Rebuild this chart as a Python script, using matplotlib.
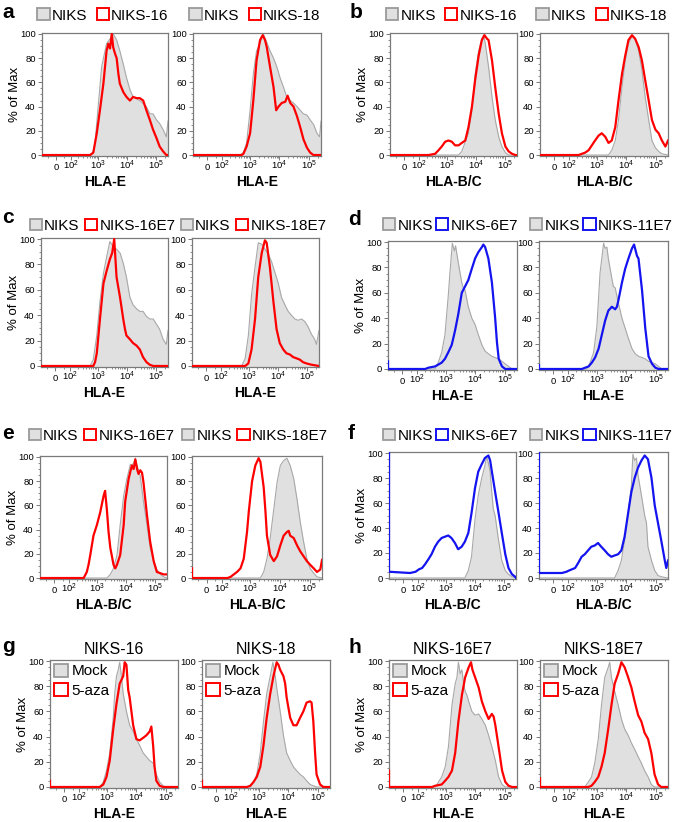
import numpy as np
import matplotlib
matplotlib.use("Agg")
import matplotlib.pyplot as plt
from matplotlib.patches import Patch
from matplotlib.ticker import FixedLocator, AutoMinorLocator, NullFormatter

plt.rcParams['font.family'] = ['Liberation Sans', 'DejaVu Sans']
plt.rcParams['mathtext.fontset'] = 'custom'
plt.rcParams['mathtext.rm'] = 'Liberation Sans'
plt.rcParams['mathtext.it'] = 'Liberation Sans:italic'
plt.rcParams['mathtext.bf'] = 'Liberation Sans:bold'

# ---------------- data (x in log10 fluorescence, y in % of max) ----------------
# Panel a
A1_NIKS_X = [2.70, 2.81, 2.89, 3.01, 3.12, 3.29, 3.41, 3.52, 3.64, 3.75, 3.87, 3.98, 4.10, 4.21, 4.44, 4.67, 4.79, 4.90, 5.02, 5.13, 5.25, 5.36, 5.42]
A1_NIKS_Y = [0, 2, 10, 43, 73, 92, 96, 100, 95, 86, 75, 64, 54, 48, 45, 40, 34, 34, 29, 26, 21, 15, 28]
A1_16_X = [2.72, 2.83, 2.95, 3.06, 3.18, 3.29, 3.35, 3.41, 3.47, 3.52, 3.58, 3.64, 3.70, 3.75, 3.87, 3.98, 4.10, 4.21, 4.33, 4.44, 4.56, 4.67, 4.79, 4.90, 5.02, 5.13, 5.25, 5.36, 5.42]
A1_16_Y = [0, 2, 18, 37, 59, 86, 92, 88, 100, 89, 84, 80, 67, 59, 52, 48, 45, 48, 47, 47, 45, 37, 29, 21, 14, 7, 3, 0, 0]
A2_NIKS_X = [2.65, 2.77, 2.88, 3.00, 3.11, 3.22, 3.34, 3.45, 3.57, 3.68, 3.80, 3.91, 4.02, 4.14, 4.25, 4.37, 4.48, 4.60, 4.71, 4.82, 4.94, 5.05, 5.17, 5.28, 5.37, 5.42]
A2_NIKS_Y = [0, 2, 10, 37, 67, 86, 92, 100, 93, 86, 80, 73, 64, 56, 48, 45, 43, 40, 37, 34, 33, 29, 25, 18, 15, 28]
A2_18_X = [2.71, 2.77, 2.88, 3.00, 3.11, 3.22, 3.34, 3.43, 3.51, 3.57, 3.68, 3.80, 3.89, 3.97, 4.08, 4.20, 4.28, 4.37, 4.48, 4.60, 4.71, 4.82, 4.94, 5.05, 5.16, 5.42]
A2_18_Y = [0, 1, 7, 18, 45, 78, 95, 99, 95, 89, 73, 56, 37, 40, 43, 44, 49, 43, 40, 32, 23, 13, 6, 2, 0, 0]

# Panel b
B1_NIKS_X = [3.41, 3.52, 3.75, 3.87, 3.98, 4.10, 4.21, 4.27, 4.33, 4.44, 4.56, 4.67, 4.79, 4.90, 5.02, 5.13, 5.42]
B1_NIKS_Y = [0, 3, 18, 37, 67, 86, 96, 99, 92, 73, 48, 29, 15, 7, 2, 0, 0]
B1_16_X = [2.37, 2.60, 2.72, 2.83, 2.95, 3.06, 3.18, 3.29, 3.41, 3.52, 3.64, 3.75, 3.87, 3.98, 4.10, 4.21, 4.30, 4.39, 4.44, 4.56, 4.67, 4.79, 4.90, 5.02, 5.13, 5.25, 5.36, 5.42]
B1_16_Y = [0, 1, 4, 7, 11, 12, 11, 8, 8, 10, 12, 23, 40, 62, 82, 95, 99, 96, 95, 78, 56, 34, 18, 7, 3, 1, 0, 0]
B2_NIKS_X = [3.39, 3.50, 3.62, 3.73, 3.85, 3.96, 4.07, 4.19, 4.30, 4.42, 4.53, 4.64, 4.76, 4.87, 4.99, 5.10, 5.21, 5.42]
B2_NIKS_Y = [0, 4, 12, 29, 56, 78, 92, 98, 96, 86, 70, 48, 29, 12, 6, 3, 1, 0]
B2_18_X = [2.36, 2.59, 2.71, 2.82, 2.93, 3.05, 3.16, 3.28, 3.39, 3.50, 3.62, 3.73, 3.85, 3.96, 4.07, 4.19, 4.30, 4.42, 4.53, 4.64, 4.76, 4.87, 4.99, 5.10, 5.21, 5.33, 5.42]
B2_18_Y = [0, 2, 4, 8, 12, 16, 18, 15, 10, 12, 23, 45, 67, 82, 95, 99, 96, 89, 78, 62, 45, 29, 21, 18, 12, 7, 12]

# Panel c
C1_NIKS_X = [2.74, 2.85, 2.97, 3.08, 3.20, 3.31, 3.42, 3.54, 3.65, 3.77, 3.88, 3.99, 4.11, 4.22, 4.34, 4.45, 4.56, 4.68, 4.79, 4.91, 5.02, 5.13, 5.25, 5.36, 5.42]
C1_NIKS_Y = [0, 5, 24, 51, 73, 86, 98, 94, 92, 89, 81, 70, 54, 48, 45, 43, 43, 39, 37, 37, 33, 29, 21, 17, 28]
C1_16E7_X = [2.85, 2.91, 2.97, 3.08, 3.20, 3.31, 3.42, 3.50, 3.57, 3.65, 3.77, 3.88, 3.94, 3.99, 4.11, 4.22, 4.34, 4.45, 4.56, 4.68, 4.79, 4.91, 5.42]
C1_16E7_Y = [0, 3, 10, 37, 65, 75, 84, 89, 100, 70, 54, 37, 29, 24, 21, 18, 16, 13, 7, 3, 1, 0, 0]
C2_NIKS_X = [2.76, 2.88, 2.99, 3.10, 3.22, 3.33, 3.45, 3.56, 3.68, 3.79, 3.90, 4.02, 4.13, 4.25, 4.36, 4.47, 4.59, 4.70, 4.82, 4.93, 5.04, 5.16, 5.27, 5.33, 5.42]
C2_NIKS_Y = [0, 6, 24, 56, 78, 97, 96, 92, 88, 82, 74, 65, 54, 48, 43, 40, 37, 36, 37, 35, 31, 25, 21, 17, 28]
C2_18E7_X = [2.88, 2.99, 3.10, 3.22, 3.33, 3.45, 3.56, 3.62, 3.73, 3.85, 3.96, 4.07, 4.19, 4.30, 4.42, 4.53, 4.65, 4.76, 4.87, 4.99, 5.16, 5.42]
C2_18E7_Y = [0, 2, 13, 37, 70, 89, 99, 97, 78, 51, 29, 18, 13, 10, 9, 7, 6, 5, 3, 2, 1, 0]

# Panel d
D1_NIKS_X = [2.64, 2.75, 2.87, 2.98, 3.09, 3.15, 3.23, 3.30, 3.34, 3.43, 3.55, 3.60, 3.66, 3.72, 3.77, 3.89, 4.00, 4.11, 4.23, 4.34, 4.45, 4.57, 4.68, 4.80, 4.91, 5.02, 5.14, 5.25, 5.42]
D1_NIKS_Y = [0, 5, 13, 27, 57, 76, 99, 93, 97, 84, 68, 64, 62, 55, 49, 40, 35, 27, 19, 14, 12, 10, 9, 8, 6, 4, 2, 0, 0]
D1_6E7_X = [2.30, 2.41, 2.64, 2.87, 2.98, 3.09, 3.21, 3.32, 3.43, 3.55, 3.66, 3.77, 3.89, 4.00, 4.11, 4.23, 4.28, 4.34, 4.45, 4.57, 4.68, 4.74, 4.80, 4.91, 5.02, 5.42]
D1_6E7_Y = [0, 1, 2, 5, 8, 13, 19, 30, 43, 60, 65, 70, 79, 87, 92, 96, 98, 96, 87, 68, 40, 21, 8, 2, 0, 0]
D2_NIKS_X = [2.67, 2.78, 2.90, 3.01, 3.12, 3.24, 3.29, 3.35, 3.40, 3.52, 3.57, 3.63, 3.74, 3.86, 3.97, 4.08, 4.20, 4.31, 4.42, 4.54, 4.65, 4.76, 4.88, 4.99, 5.10, 5.21, 5.42]
D2_NIKS_Y = [0, 5, 13, 33, 76, 99, 95, 96, 87, 71, 65, 64, 52, 40, 32, 24, 16, 12, 10, 9, 8, 6, 5, 4, 2, 0, 0]
D2_11E7_X = [2.50, 2.61, 2.73, 2.84, 2.95, 3.07, 3.18, 3.29, 3.40, 3.52, 3.63, 3.69, 3.74, 3.86, 3.97, 4.08, 4.20, 4.27, 4.37, 4.42, 4.54, 4.65, 4.76, 4.88, 4.99, 5.10, 5.42]
D2_11E7_Y = [0, 1, 2, 5, 9, 16, 27, 38, 46, 49, 47, 49, 54, 68, 79, 87, 95, 98, 89, 87, 62, 32, 10, 4, 1, 0, 0]

# Panel e
E1_NIKS_X = [3.35, 3.47, 3.58, 3.70, 3.81, 3.93, 4.04, 4.16, 4.21, 4.27, 4.33, 4.39, 4.50, 4.61, 4.73, 4.84, 4.96, 5.07, 5.19, 5.30, 5.42]
E1_NIKS_Y = [0, 3, 8, 19, 44, 68, 82, 94, 93, 95, 99, 93, 84, 63, 44, 25, 14, 7, 3, 1, 0]
E1_16E7_X = [2.55, 2.66, 2.72, 2.78, 2.89, 3.01, 3.12, 3.24, 3.29, 3.35, 3.41, 3.47, 3.58, 3.64, 3.70, 3.81, 3.93, 3.98, 4.10, 4.21, 4.27, 4.33, 4.39, 4.44, 4.50, 4.56, 4.61, 4.73, 4.84, 4.96, 5.07, 5.19, 5.30, 5.42]
E1_16E7_Y = [0, 5, 11, 19, 35, 44, 54, 68, 72, 57, 38, 25, 11, 8, 11, 19, 44, 63, 82, 93, 90, 98, 90, 86, 89, 87, 79, 52, 30, 14, 5, 4, 3, 3]
E2_NIKS_X = [3.35, 3.46, 3.57, 3.68, 3.80, 3.91, 4.02, 4.13, 4.24, 4.35, 4.47, 4.58, 4.69, 4.80, 4.91, 5.02, 5.14, 5.25, 5.42]
E2_NIKS_Y = [0, 5, 16, 33, 57, 79, 93, 97, 99, 93, 82, 65, 46, 30, 16, 8, 4, 1, 0]
E2_18E7_X = [2.23, 2.34, 2.45, 2.56, 2.68, 2.79, 2.90, 2.96, 3.07, 3.18, 3.29, 3.35, 3.46, 3.52, 3.57, 3.68, 3.80, 3.91, 4.02, 4.13, 4.24, 4.30, 4.35, 4.47, 4.58, 4.69, 4.80, 4.91, 5.02, 5.14, 5.25, 5.36, 5.42]
E2_18E7_Y = [0, 1, 3, 5, 8, 16, 38, 55, 80, 93, 99, 96, 75, 55, 35, 19, 14, 18, 27, 35, 38, 39, 35, 33, 27, 22, 18, 14, 11, 8, 5, 7, 15]

# Panel f
F1_NIKS_X = [3.66, 3.78, 3.89, 4.01, 4.12, 4.24, 4.35, 4.41, 4.47, 4.53, 4.58, 4.64, 4.70, 4.82, 4.93, 5.05, 5.16, 5.28, 5.42]
F1_NIKS_Y = [0, 6, 17, 47, 66, 80, 90, 97, 92, 85, 70, 55, 50, 30, 14, 6, 3, 1, 0]
F1_6E7_X = [1.60, 1.90, 2.05, 2.17, 2.28, 2.40, 2.51, 2.63, 2.74, 2.86, 2.97, 3.09, 3.20, 3.32, 3.43, 3.55, 3.66, 3.78, 3.89, 4.01, 4.12, 4.24, 4.35, 4.47, 4.53, 4.59, 4.70, 4.82, 4.93, 5.05, 5.16, 5.28, 5.39, 5.42]
F1_6E7_Y = [4, 5, 7, 8, 11, 15, 19, 25, 29, 32, 33, 34, 32, 28, 23, 25, 29, 36, 52, 72, 85, 91, 96, 98, 94, 85, 69, 52, 36, 19, 8, 3, 1, 0]
F2_NIKS_X = [3.61, 3.73, 3.84, 3.95, 4.07, 4.18, 4.23, 4.29, 4.35, 4.40, 4.52, 4.63, 4.69, 4.74, 4.86, 4.97, 5.08, 5.19, 5.42]
F2_NIKS_Y = [0, 6, 14, 30, 52, 74, 99, 94, 96, 83, 66, 50, 44, 25, 14, 6, 2, 1, 0]
F2_11E7_X = [1.70, 1.92, 2.03, 2.15, 2.26, 2.37, 2.49, 2.60, 2.71, 2.82, 2.94, 3.05, 3.16, 3.28, 3.39, 3.50, 3.61, 3.73, 3.84, 3.95, 4.07, 4.18, 4.29, 4.40, 4.52, 4.63, 4.74, 4.86, 4.97, 5.08, 5.19, 5.31, 5.36, 5.42]
F2_11E7_Y = [4, 5, 6, 7, 8, 12, 17, 19, 22, 25, 26, 28, 25, 22, 19, 17, 18, 19, 22, 33, 52, 69, 80, 88, 94, 98, 95, 80, 58, 44, 30, 14, 8, 14]

# Panel g
G1_MOCK_X = [2.75, 2.87, 2.98, 3.09, 3.21, 3.26, 3.32, 3.38, 3.43, 3.49, 3.55, 3.66, 3.77, 3.89, 4.00, 4.11, 4.23, 4.34, 4.45, 4.57, 4.68, 4.79, 4.91, 5.02, 5.42]
G1_MOCK_Y = [0, 4, 13, 27, 55, 74, 88, 93, 99, 88, 74, 60, 49, 44, 38, 33, 27, 24, 21, 19, 10, 4, 1, 0, 0]
G1_AZA_X = [2.75, 2.87, 2.98, 3.09, 3.21, 3.32, 3.43, 3.55, 3.60, 3.66, 3.72, 3.77, 3.89, 4.00, 4.11, 4.23, 4.34, 4.45, 4.51, 4.57, 4.62, 4.68, 4.79, 4.91, 5.42]
G1_AZA_Y = [0, 2, 8, 21, 46, 66, 82, 88, 99, 97, 77, 71, 49, 38, 37, 39, 41, 44, 48, 33, 16, 5, 1, 0, 0]
G2_MOCK_X = [2.70, 2.81, 2.92, 3.04, 3.15, 3.26, 3.38, 3.47, 3.55, 3.60, 3.72, 3.83, 3.94, 4.06, 4.17, 4.28, 4.40, 4.51, 4.62, 4.74, 4.85, 4.96, 5.42]
G2_MOCK_Y = [0, 4, 10, 27, 52, 74, 88, 99, 88, 79, 60, 41, 27, 21, 16, 13, 10, 8, 5, 2, 1, 0, 0]
G2_AZA_X = [2.58, 2.70, 2.81, 2.92, 3.04, 3.15, 3.26, 3.38, 3.49, 3.60, 3.66, 3.72, 3.83, 3.89, 3.94, 4.06, 4.17, 4.28, 4.40, 4.51, 4.62, 4.74, 4.79, 4.85, 4.91, 4.96, 5.08, 5.19, 5.42]
G2_AZA_Y = [0, 1, 4, 8, 16, 33, 55, 74, 88, 99, 97, 93, 88, 82, 71, 55, 49, 49, 55, 60, 67, 68, 67, 52, 27, 10, 2, 0, 0]

# Panel h
H1_MOCK_X = [2.63, 2.74, 2.85, 2.97, 3.08, 3.20, 3.31, 3.37, 3.42, 3.48, 3.54, 3.60, 3.65, 3.71, 3.77, 3.88, 3.99, 4.11, 4.22, 4.34, 4.45, 4.56, 4.68, 4.79, 4.91, 5.02, 5.42]
H1_MOCK_Y = [0, 4, 8, 16, 32, 65, 82, 87, 99, 90, 93, 82, 76, 73, 68, 60, 57, 58, 54, 49, 41, 32, 21, 8, 2, 0, 0]
H1_AZA_X = [2.51, 2.63, 2.85, 2.97, 3.08, 3.20, 3.31, 3.42, 3.54, 3.65, 3.77, 3.85, 3.90, 3.99, 4.11, 4.22, 4.34, 4.45, 4.56, 4.62, 4.68, 4.79, 4.91, 5.02, 5.13, 5.25, 5.42]
H1_AZA_Y = [0, 1, 2, 5, 8, 13, 27, 52, 73, 87, 95, 99, 93, 87, 79, 68, 60, 54, 58, 56, 49, 32, 13, 4, 1, 0, 0]
H2_MOCK_X = [2.58, 2.70, 2.81, 2.92, 3.04, 3.15, 3.26, 3.38, 3.43, 3.49, 3.60, 3.72, 3.83, 3.94, 4.06, 4.17, 4.28, 4.40, 4.51, 4.62, 4.74, 4.85, 4.96, 5.42]
H2_MOCK_Y = [0, 4, 8, 19, 38, 65, 87, 95, 99, 87, 76, 65, 54, 46, 41, 35, 30, 24, 19, 13, 8, 2, 0, 0]
H2_AZA_X = [2.70, 2.81, 2.92, 3.04, 3.15, 3.26, 3.38, 3.49, 3.60, 3.72, 3.83, 3.94, 4.06, 4.17, 4.28, 4.40, 4.51, 4.62, 4.74, 4.85, 4.96, 5.08, 5.19, 5.42]
H2_AZA_Y = [0, 1, 4, 8, 16, 27, 46, 65, 82, 90, 99, 95, 87, 79, 68, 57, 52, 43, 38, 27, 10, 2, 0, 0]

# y values at the left (off-scale) edge of the axis
EDGE_NONE = [0]
EDGE_D1 = [6, 0]
EDGE_D2 = [3, 0]
EDGE_E2 = [8, 0]
EDGE_F1 = [105, 5]
EDGE_F2 = [105, 4]
EDGE_G = [5, 0]
EDGE_H1 = [13, 0]
EDGE_H2 = [7, 0]

X_TICKS = [0, 1e2, 1e3, 1e4, 1e5]
X_TICK_LABELS = ['$0$', '$10^{2}$', '$10^{3}$', '$10^{4}$', '$10^{5}$']
Y_TICKS = [0, 20, 40, 60, 80, 100]

# ---------------- styling ----------------
W, H = 675, 822
XMIN, XMAX = -97.0, 262144.0
C = 70.0
RED = '#ff0000'
BLUE = '#1414f0'
GFILL = '#e0e0e0'
GEDGE = '#a8a8a8'
SPINE = '#7a7a7a'


def fwd(x):
    return np.arcsinh(np.asarray(x, dtype=float) / C) / np.log(10)


def inv(u):
    return C * np.sinh(np.asarray(u, dtype=float) * np.log(10))


fig = plt.figure(figsize=(W / 100, H / 100), dpi=100)


def make_ax(l, r, t, b):
    ax = fig.add_axes([l / W, 1 - b / H, (r - l) / W, (b - t) / H])
    ax.set_xscale('function', functions=(fwd, inv))
    ax.set_xlim(XMIN, XMAX)
    ax.set_ylim(-0.8, 100.8)
    minors = [m * 10.0 ** k for k in (2, 3, 4) for m in range(2, 10)] + [2e5, -50, 50]
    ax.xaxis.set_minor_locator(FixedLocator(minors))
    ax.xaxis.set_minor_formatter(NullFormatter())
    ax.set_yticks(Y_TICKS)
    ax.yaxis.set_minor_locator(AutoMinorLocator(4))
    ax.tick_params(which='major', direction='out', length=3, width=0.7, color=SPINE,
                   labelsize=6.8, pad=1.5)
    ax.tick_params(which='minor', direction='out', length=1.5, width=0.6, color=SPINE)
    ax.tick_params(axis='x', which='major', pad=6.8)
    ax.set_xticks(X_TICKS, X_TICK_LABELS, va='baseline')
    for s in ax.spines.values():
        s.set_color(SPINE)
        s.set_linewidth(0.9)
    return ax


def draw(ax, gx, gy, cx, cy, color, cedge=EDGE_NONE):
    xg = np.concatenate([[XMIN], 10.0 ** np.asarray(gx)])
    yg = np.concatenate([[0], gy])
    ax.fill_between(xg, yg, -2, color=GFILL, lw=0, zorder=1)
    ax.plot(xg, yg, color=GEDGE, lw=0.8, zorder=2)
    xc = np.concatenate([[XMIN] * len(cedge), 10.0 ** np.asarray(cx)])
    yc = np.concatenate([cedge, cy])
    ax.plot(xc, yc, color=color, lw=1.6, zorder=3, solid_joinstyle='round')


def top_legend(ax, labels, color, cy, colsp):
    handles = [Patch(facecolor=GFILL, edgecolor='#9a9a9a', linewidth=1.3),
               Patch(facecolor='white', edgecolor=color, linewidth=1.4)]
    bb = ax.get_position()
    cx = (bb.x0 + bb.x1) / 2 - 2 / W
    ax.legend(handles, labels, loc='center', bbox_to_anchor=(cx, 1 - cy / H),
              bbox_transform=fig.transFigure, ncol=2, frameon=False, fontsize=11,
              handlelength=0.8, handleheight=0.78, handletextpad=0.15,
              columnspacing=colsp, borderpad=0, borderaxespad=0)


def inner_legend(ax, color):
    handles = [Patch(facecolor=GFILL, edgecolor='#9a9a9a', linewidth=1.3),
               Patch(facecolor='white', edgecolor=color, linewidth=1.4)]
    ax.legend(handles, ['Mock', '5-aza'], loc='upper left', frameon=False, fontsize=11,
              handlelength=0.95, handleheight=0.9, handletextpad=0.2, labelspacing=0.3,
              borderpad=0.15, borderaxespad=0.1)


def labels(ax, xlabel, ylab, hpx, wpx):
    ax.set_xlabel(xlabel, fontsize=10, fontweight='bold')
    ax.xaxis.set_label_coords(0.5, -26 / hpx)
    ax.xaxis.label.set_va('center')
    if ylab:
        ax.set_ylabel('% of Max', fontsize=9.5)
        ax.yaxis.set_label_coords(-27 / wpx, 0.5)
        ax.yaxis.label.set_va('center')


def panel(l, r, t, b, gx, gy, cx, cy, color, xlabel, ylab, cedge=EDGE_NONE):
    ax = make_ax(l, r, t, b)
    draw(ax, gx, gy, cx, cy, color, cedge)
    labels(ax, xlabel, ylab, b - t, r - l)
    return ax


# row a / b
ax = panel(42, 168, 33, 156, A1_NIKS_X, A1_NIKS_Y, A1_16_X, A1_16_Y, RED, 'HLA-E', True)
top_legend(ax, ['NIKS', 'NIKS-16'], RED, 15.5, 0.6)
ax = panel(193, 321, 33, 156, A2_NIKS_X, A2_NIKS_Y, A2_18_X, A2_18_Y, RED, 'HLA-E', False)
top_legend(ax, ['NIKS', 'NIKS-18'], RED, 15.5, 0.6)
ax = panel(390, 517, 33, 156, B1_NIKS_X, B1_NIKS_Y, B1_16_X, B1_16_Y, RED, 'HLA-B/C', True)
top_legend(ax, ['NIKS', 'NIKS-16'], RED, 15.5, 0.6)
ax = panel(540, 668, 33, 156, B2_NIKS_X, B2_NIKS_Y, B2_18_X, B2_18_Y, RED, 'HLA-B/C', False)
top_legend(ax, ['NIKS', 'NIKS-18'], RED, 15.5, 0.6)

# row c / d
ax = panel(41, 168, 238, 367, C1_NIKS_X, C1_NIKS_Y, C1_16E7_X, C1_16E7_Y, RED, 'HLA-E', True)
top_legend(ax, ['NIKS', 'NIKS-16E7'], RED, 226, 0.35)
ax = panel(192, 319, 238, 367, C2_NIKS_X, C2_NIKS_Y, C2_18E7_X, C2_18E7_Y, RED, 'HLA-E', False)
top_legend(ax, ['NIKS', 'NIKS-18E7'], RED, 226, 0.35)
ax = panel(388, 517, 241, 370, D1_NIKS_X, D1_NIKS_Y, D1_6E7_X, D1_6E7_Y, BLUE, 'HLA-E', True, EDGE_D1)
top_legend(ax, ['NIKS', 'NIKS-6E7'], BLUE, 225.5, 0.2)
ax = panel(539, 668, 241, 370, D2_NIKS_X, D2_NIKS_Y, D2_11E7_X, D2_11E7_Y, BLUE, 'HLA-E', False, EDGE_D2)
top_legend(ax, ['NIKS', 'NIKS-11E7'], BLUE, 225.5, 0.2)

# row e / f
ax = panel(40, 167, 456, 579, E1_NIKS_X, E1_NIKS_Y, E1_16E7_X, E1_16E7_Y, RED, 'HLA-B/C', True)
top_legend(ax, ['NIKS', 'NIKS-16E7'], RED, 436, 0.35)
ax = panel(192, 322, 456, 579, E2_NIKS_X, E2_NIKS_Y, E2_18E7_X, E2_18E7_Y, RED, 'HLA-B/C', False, EDGE_E2)
top_legend(ax, ['NIKS', 'NIKS-18E7'], RED, 436, 0.35)
ax = panel(389, 516, 452, 579, F1_NIKS_X, F1_NIKS_Y, F1_6E7_X, F1_6E7_Y, BLUE, 'HLA-B/C', True, EDGE_F1)
top_legend(ax, ['NIKS', 'NIKS-6E7'], BLUE, 436, 0.2)
ax = panel(539, 668, 452, 579, F2_NIKS_X, F2_NIKS_Y, F2_11E7_X, F2_11E7_Y, BLUE, 'HLA-B/C', False, EDGE_F2)
top_legend(ax, ['NIKS', 'NIKS-11E7'], BLUE, 436, 0.2)

# row g / h
for (l, r, gx, gy, cx, cy, title, ylab, edge) in [
        (50, 178, G1_MOCK_X, G1_MOCK_Y, G1_AZA_X, G1_AZA_Y, 'NIKS-16', True, EDGE_G),
        (202, 330, G2_MOCK_X, G2_MOCK_Y, G2_AZA_X, G2_AZA_Y, 'NIKS-18', False, EDGE_G),
        (389, 517, H1_MOCK_X, H1_MOCK_Y, H1_AZA_X, H1_AZA_Y, 'NIKS-16E7', True, EDGE_H1),
        (540, 668, H2_MOCK_X, H2_MOCK_Y, H2_AZA_X, H2_AZA_Y, 'NIKS-18E7', False, EDGE_H2)]:
    ax = panel(l, r, 660, 788, gx, gy, cx, cy, RED, 'HLA-E', ylab, edge)
    inner_legend(ax, RED)
    ax.text(0.5, 1 + 11 / 128, title, transform=ax.transAxes, ha='center', va='center',
            fontsize=11.5)

# panel letters
for letter, x, y in [('a', 2, 18), ('b', 350, 18), ('c', 2, 223), ('d', 348, 225),
                     ('e', 2, 439), ('f', 348, 439), ('g', 2, 652), ('h', 348, 653)]:
    fig.text(x / W, 1 - y / H, letter, fontsize=15, fontweight='bold', ha='left', va='baseline')

fig.savefig('out.png', dpi=100)
